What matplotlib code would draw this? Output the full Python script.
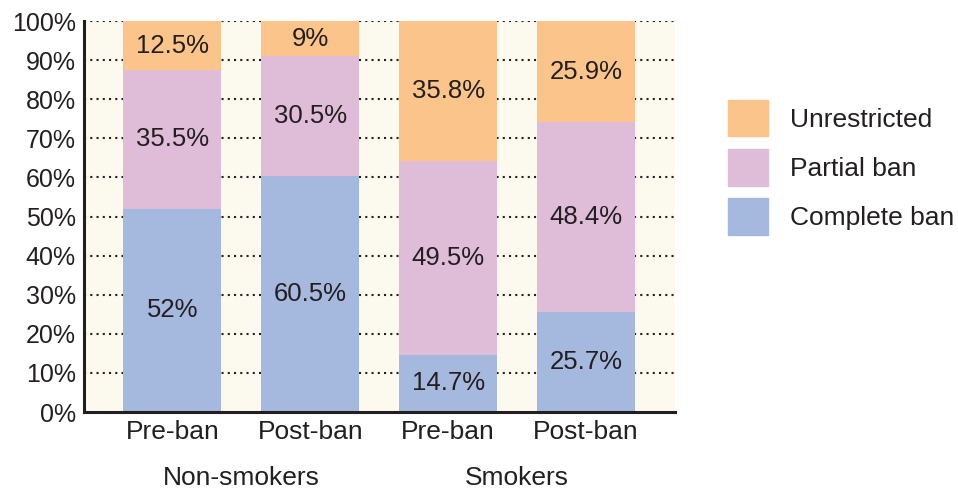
import numpy as np
import matplotlib.pyplot as plt
from matplotlib.patches import Patch

plt.rcParams['font.family'] = ['Liberation Sans', 'DejaVu Sans']

# data
bar_labels = ['Pre-ban', 'Post-ban', 'Pre-ban', 'Post-ban']
groups = ['Non-smokers', 'Smokers']
complete_ban = [52, 60.5, 14.7, 25.7]
partial_ban = [35.5, 30.5, 49.5, 48.4]
unrestricted = [12.5, 9, 35.8, 25.9]
series_names = ['Complete ban', 'Partial ban', 'Unrestricted']
colors = ['#A5B9DE', '#DFBCD8', '#FBC48A']
txt = '#231F20'

fig = plt.figure(figsize=(9.58, 4.92), dpi=100)
ax = fig.add_axes([0.0877, 0.1626, 0.617, 0.7944])
ax.set_facecolor('#FCFAEE')

x = np.arange(len(bar_labels))
bottom = np.zeros(len(x))
for vals, c in zip([complete_ban, partial_ban, unrestricted], colors):
    vals = np.array(vals)
    ax.bar(x, vals, 0.71, bottom=bottom, color=c, zorder=2)
    for xi, b, v in zip(x, bottom, vals):
        ax.text(xi, b + v / 2, f'{v:g}%', ha='center', va='center',
                fontsize=18.5, color=txt, zorder=3)
    bottom += vals

ax.set_xlim(-0.64, 3.645)
ax.set_ylim(0, 100)
ax.set_yticks(np.arange(0, 101, 10))
ax.set_yticklabels([f'{v}%' for v in range(0, 101, 10)])
ax.set_xticks(x)
ax.set_xticklabels(bar_labels)
ax.tick_params(length=0, colors=txt)
ax.tick_params(axis='y', pad=6, labelsize=18)
ax.tick_params(axis='x', pad=6, labelsize=19)
for yv in range(10, 101, 10):
    ax.axhline(yv, color='#231F20', linestyle=(0, (1, 2)), linewidth=1.5, zorder=1)
for s in ['top', 'right']:
    ax.spines[s].set_visible(False)
for s in ['left', 'bottom']:
    ax.spines[s].set_linewidth(2.2)
    ax.spines[s].set_color('#231F20')

for gx, g in zip([0.5, 2.5], groups):
    ax.text(gx, -17, g, ha='center', va='center', fontsize=19, color=txt)

handles = [Patch(color=c) for c in colors[::-1]]
leg = fig.legend(handles, series_names[::-1], loc='upper left',
                 bbox_to_anchor=(0.76, 0.797), frameon=False, fontsize=19,
                 handlelength=1.5, handleheight=1.75, labelspacing=0.48,
                 handletextpad=0.85, borderpad=0, borderaxespad=0)
for t in leg.get_texts():
    t.set_color(txt)

fig.savefig('out.png', dpi=100)
